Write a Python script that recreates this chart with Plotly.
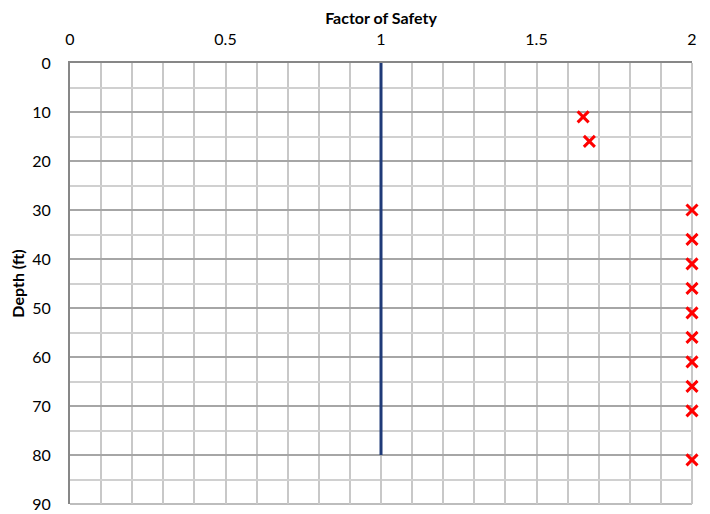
import plotly.graph_objects as go

# Data
fs_limit_x = [1, 1]
fs_limit_depth = [0, 80]
fs_values = [1.65, 1.67, 2, 2, 2, 2, 2, 2, 2, 2, 2, 2]
fs_depths = [11, 16, 30, 36, 41, 46, 51, 56, 61, 66, 71, 81]

x_ticks = [0, 0.5, 1, 1.5, 2]
x_tick_labels = ["0", "0.5", "1", "1.5", "2"]
y_ticks = [0, 10, 20, 30, 40, 50, 60, 70, 80, 90]

FONT = "Lato"

fig = go.Figure()
fig.add_trace(go.Scatter(
    x=fs_limit_x, y=fs_limit_depth, mode="lines",
    line=dict(color="#1F3A78", width=3), showlegend=False, hoverinfo="skip"))
fig.add_trace(go.Scatter(
    x=fs_values, y=fs_depths, mode="markers",
    marker=dict(symbol="x-thin", size=11, line=dict(width=3, color="#FF0000"), color="#FF0000"),
    showlegend=False, cliponaxis=False))

# page body has an 8px margin, so the figure is offset by 8px
fig.update_layout(
    width=702, height=506,
    margin=dict(l=62, r=18, t=55, b=10),
    paper_bgcolor="white", plot_bgcolor="white",
    font=dict(family=FONT, size=16, color="#000000"),
    shapes=[
        dict(type="line", xref="x domain", yref="y domain", x0=0, x1=1, y0=0, y1=0,
             line=dict(color="#BDBDBD", width=2), layer="below"),
        dict(type="line", xref="x domain", yref="y domain", x0=1, x1=1, y0=0, y1=1,
             line=dict(color="#C8C8C8", width=2), layer="below"),
    ],
)
fig.update_xaxes(
    side="top", range=[0, 2], tickvals=x_ticks, ticktext=x_tick_labels,
    showgrid=True, gridcolor="#C8C8C8", gridwidth=2,
    minor=dict(dtick=0.1, showgrid=True, gridcolor="#C8C8C8", gridwidth=2),
    showline=True, linecolor="#878787", linewidth=2,
    ticks="", ticklabelstandoff=10,
    zeroline=False, automargin=False,
    title=dict(text="<b>Factor of Safety</b>", font=dict(family=FONT, size=16), standoff=6),
)
fig.update_yaxes(
    range=[90, 0], tickvals=y_ticks,
    showgrid=True, gridcolor="#A6A6A6", gridwidth=2,
    minor=dict(dtick=5, showgrid=True, gridcolor="#D0D0D0", gridwidth=2),
    showline=True, linecolor="#878787", linewidth=2,
    ticks="", ticklabelstandoff=14,
    zeroline=False, automargin=False,
    title=dict(text="<b>Depth (ft)</b>", font=dict(family=FONT, size=16), standoff=4),
)

fig.write_html("out.html")
